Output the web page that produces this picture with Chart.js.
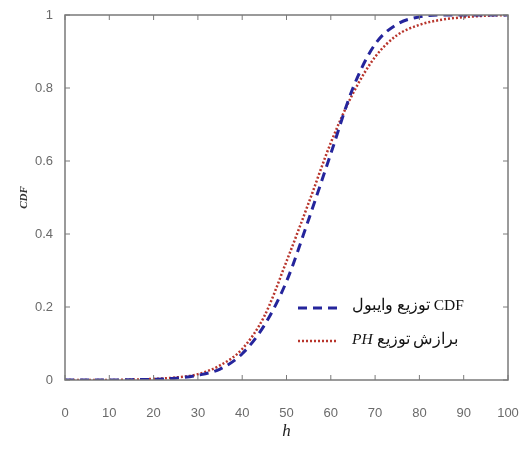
<!DOCTYPE html>
<html lang="fa">
<head>
    <meta charset="UTF-8">
    <script src="https://cdn.jsdelivr.net/npm/chart.js"></script>
    <title>CDF</title>
    <style>
        body { margin: 0; background: #ffffff; }
        #wrap { width: 520px; height: 450px; }
    </style>
</head>
<body>
<div id="wrap"><canvas id="cdfChart"></canvas></div>
<script>
    // h values (x axis)
    const hValues = [0, 5, 10, 15, 20, 25, 30, 35, 40, 45, 50, 55, 60, 65, 70, 75, 80, 85, 90, 95, 100];
    // Weibull CDF (blue dashed)
    const weibullCdf = [0, 0, 0, 0.001, 0.002, 0.005, 0.013, 0.03, 0.072, 0.15, 0.27, 0.44, 0.62, 0.8, 0.92, 0.975, 0.995, 1, 1, 1, 1];
    // PH fit (red dotted)
    const phFit = [0, 0, 0, 0.001, 0.003, 0.007, 0.016, 0.04, 0.085, 0.175, 0.325, 0.485, 0.65, 0.785, 0.885, 0.945, 0.973, 0.987, 0.994, 0.998, 1];
    const xTicks = [0, 10, 20, 30, 40, 50, 60, 70, 80, 90, 100];
    const yTicks = [0, 0.2, 0.4, 0.6, 0.8, 1];

    const blue = '#25259c';
    const red = '#b8352c';

    const toPoints = (ys) => hValues.map((h, i) => ({ x: h, y: ys[i] }));

    // MATLAB-like box with inward ticks + custom legend
    const boxPlugin = {
        id: 'box',
        afterDraw(chart) {
            const { ctx, chartArea: a, scales: { x, y } } = chart;
            ctx.save();
            ctx.strokeStyle = '#7a7a7a';
            ctx.lineWidth = 1.5;
            ctx.strokeRect(a.left, a.top, a.right - a.left, a.bottom - a.top);
            ctx.lineWidth = 1;
            ctx.beginPath();
            xTicks.forEach(v => {
                const px = x.getPixelForValue(v);
                ctx.moveTo(px, a.bottom); ctx.lineTo(px, a.bottom - 5);
                ctx.moveTo(px, a.top); ctx.lineTo(px, a.top + 5);
            });
            yTicks.forEach(v => {
                const py = y.getPixelForValue(v);
                ctx.moveTo(a.left, py); ctx.lineTo(a.left + 5, py);
                ctx.moveTo(a.right, py); ctx.lineTo(a.right - 5, py);
            });
            ctx.stroke();

            // legend
            ctx.lineWidth = 3;
            ctx.strokeStyle = blue;
            ctx.setLineDash([9, 6]);
            ctx.beginPath(); ctx.moveTo(298, 308); ctx.lineTo(338, 308); ctx.stroke();
            ctx.lineWidth = 2.5;
            ctx.strokeStyle = red;
            ctx.setLineDash([2, 2]);
            ctx.beginPath(); ctx.moveTo(298, 341); ctx.lineTo(338, 341); ctx.stroke();
            ctx.setLineDash([]);

            ctx.fillStyle = '#111';
            ctx.textBaseline = 'middle';
            ctx.textAlign = 'left';
            ctx.font = '15.5px "Liberation Serif", "DejaVu Serif", serif';
            const t1 = 'توزیع وایبول';
            ctx.fillText(t1, 352, 306);
            const w1 = ctx.measureText(t1 + ' ').width;
            ctx.fillText('CDF', 352 + w1, 306);

            ctx.font = 'italic 15.5px "Liberation Serif", serif';
            ctx.fillText('PH', 352, 340);
            const w2 = ctx.measureText('PH ').width;
            ctx.font = '15.5px "Liberation Serif", "DejaVu Serif", serif';
            ctx.fillText('برازش توزیع', 352 + w2, 340);
            ctx.restore();
        }
    };

    const chart = new Chart(document.getElementById('cdfChart'), {
        type: 'line',
        data: {
            datasets: [
                {
                    label: 'CDF توزیع وایبول',
                    data: toPoints(weibullCdf),
                    borderColor: blue,
                    borderWidth: 3,
                    borderDash: [9, 6],
                    pointRadius: 0,
                    cubicInterpolationMode: 'monotone',
                    fill: false
                },
                {
                    label: 'برازش توزیع PH',
                    data: toPoints(phFit),
                    borderColor: red,
                    borderWidth: 2.5,
                    borderDash: [2, 2],
                    pointRadius: 0,
                    cubicInterpolationMode: 'monotone',
                    fill: false
                }
            ]
        },
        options: {
            responsive: true,
            maintainAspectRatio: false,
            animation: false,
            layout: { padding: { top: 15, right: 12, left: 0, bottom: 0 } },
            plugins: {
                legend: { display: false },
                tooltip: { enabled: false }
            },
            scales: {
                x: {
                    type: 'linear',
                    min: 0,
                    max: 100,
                    afterFit: (s) => { s.height = 70; s.paddingLeft = 0; s.paddingRight = 0; },
                    afterBuildTicks: (s) => { s.ticks = xTicks.map(v => ({ value: v })); },
                    grid: { display: false },
                    border: { display: false },
                    ticks: {
                        color: '#6a6a6a',
                        padding: 18,
                        maxRotation: 0,
                        callback: (v) => String(v),
                        font: { family: '"Liberation Sans Narrow", "Liberation Sans", Arial', size: 13 }
                    },
                    title: {
                        display: true,
                        text: 'h',
                        color: '#222',
                        padding: { bottom: 8, top: 0 },
                        font: { family: '"Liberation Serif", serif', size: 17, style: 'italic' }
                    }
                },
                y: {
                    min: 0,
                    max: 1,
                    afterFit: (s) => { s.width = 65; s.paddingTop = 0; s.paddingBottom = 0; },
                    afterBuildTicks: (s) => { s.ticks = yTicks.map(v => ({ value: v })); },
                    grid: { display: false },
                    border: { display: false },
                    ticks: {
                        color: '#6a6a6a',
                        padding: 4,
                        callback: (v) => String(v),
                        font: { family: '"Liberation Sans Narrow", "Liberation Sans", Arial', size: 13 }
                    },
                    title: {
                        display: true,
                        text: 'CDF',
                        color: '#333',
                        padding: { top: 18, bottom: 0 },
                        font: { family: '"Liberation Serif", serif', size: 11, style: 'italic', weight: 'bold' }
                    }
                }
            }
        },
        plugins: [boxPlugin]
    });
</script>
</body>
</html>
